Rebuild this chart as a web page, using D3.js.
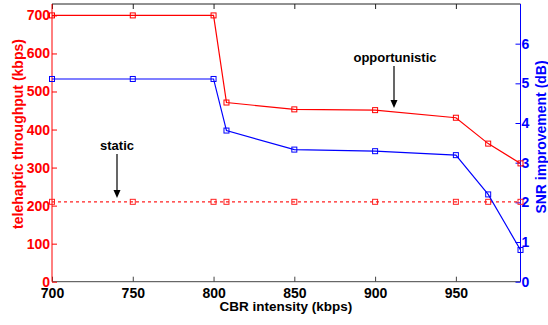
<!DOCTYPE html>
<html>
<head>
<script src="https://d3js.org/d3.v7.min.js"></script>
<style>
  body { margin: 0; background: #fff; }
  text { font-family: "Liberation Sans", Arial, sans-serif; font-weight: bold; }
</style>
</head>
<body>
<div id="chart"></div>
<script>
// data
var cbr = [700, 750, 800, 808, 850, 900, 950, 970, 990];
var opportunistic = [700, 700, 700, 471, 453, 451, 431, 363, 311];
var staticTput = [210, 210, 210, 210, 210, 210, 210, 210, 210];
var snrGain = [5.11, 5.11, 5.11, 3.81, 3.33, 3.29, 3.19, 2.2, 0.8];
var xTicks = [700, 750, 800, 850, 900, 950];
var leftTicks = [0, 100, 200, 300, 400, 500, 600, 700];
var rightTicks = [0, 1, 2, 3, 4, 5, 6];

var width = 548, height = 325;
var pLeft = 52, pRight = 520.5, pTop = 4, pBottom = 281.7;

var svg = d3.select("#chart").append("svg")
    .attr("width", width)
    .attr("height", height);

var x = d3.scaleLinear().domain([700, 990]).range([pLeft, pRight]);
var yL = d3.scaleLinear().domain([0, 730]).range([pBottom, pTop]);
var yR = d3.scaleLinear().domain([0, 7]).range([pBottom, pTop]);

// top border with ticks
svg.append("g")
    .attr("transform", "translate(0," + pTop + ")")
    .call(d3.axisTop(x).tickValues(xTicks).tickSize(-5).tickFormat(""))
    .call(g => g.select(".domain").attr("stroke", "#222").attr("d", "M" + pLeft + ",0H" + pRight))
    .call(g => g.selectAll(".tick line").attr("stroke", "#222"));

// bottom axis
svg.append("g")
    .attr("transform", "translate(0," + pBottom + ")")
    .call(d3.axisBottom(x).tickValues(xTicks).tickSize(-5).tickPadding(6))
    .call(g => g.select(".domain").attr("stroke", "#444").attr("d", "M" + pLeft + ",0H" + pRight))
    .call(g => g.selectAll(".tick line").attr("stroke", "#444"))
    .call(g => g.selectAll(".tick text").attr("fill", "#000").style("font-size", "14px"));

// left axis
svg.append("g")
    .attr("transform", "translate(" + pLeft + ",0)")
    .call(d3.axisLeft(yL).tickValues(leftTicks).tickSize(-5).tickPadding(2))
    .call(g => g.select(".domain").attr("stroke", "red").attr("d", "M0," + pTop + "V" + pBottom))
    .call(g => g.selectAll(".tick line").attr("stroke", "red"))
    .call(g => g.selectAll(".tick text").attr("fill", "red").style("font-size", "14px"));

// right axis
svg.append("g")
    .attr("transform", "translate(" + pRight + ",0)")
    .call(d3.axisRight(yR).tickValues(rightTicks).tickFormat(d3.format("d")).tickSize(-5).tickPadding(1))
    .call(g => g.select(".domain").attr("stroke", "blue").attr("d", "M0," + pTop + "V" + pBottom))
    .call(g => g.selectAll(".tick line").attr("stroke", "blue"))
    .call(g => g.selectAll(".tick text").attr("fill", "blue").style("font-size", "14px"));

function series(vals, yScale, color, dash) {
    var pts = cbr.map((c, i) => [c, vals[i]]);
    var line = d3.line().x(d => x(d[0])).y(d => yScale(d[1]));
    svg.append("path")
        .datum(pts)
        .attr("fill", "none")
        .attr("stroke", color)
        .attr("stroke-width", 1.2)
        .attr("stroke-dasharray", dash)
        .attr("d", line);
    svg.append("g").selectAll("rect")
        .data(pts)
        .join("rect")
        .attr("x", d => x(d[0]) - 2.5)
        .attr("y", d => yScale(d[1]) - 2.5)
        .attr("width", 5)
        .attr("height", 5)
        .attr("fill", "none")
        .attr("stroke", color)
        .attr("stroke-width", 1);
}

series(staticTput, yL, "#ff2020", "3,3");
series(snrGain, yR, "blue", null);
series(opportunistic, yL, "red", null);

// annotations
function arrow(label, lx, ly, x0, y0, y1) {
    svg.append("text")
        .attr("x", lx).attr("y", ly)
        .attr("text-anchor", "middle")
        .style("font-size", "13px")
        .text(label);
    svg.append("line")
        .attr("x1", x0).attr("x2", x0)
        .attr("y1", y0).attr("y2", y1 - 6)
        .attr("stroke", "#000").attr("stroke-width", 1.2);
    svg.append("path")
        .attr("d", "M" + (x0 - 3.5) + "," + (y1 - 8) + "L" + (x0 + 3.5) + "," + (y1 - 8) + "L" + x0 + "," + y1 + "Z")
        .attr("fill", "#000");
}
arrow("opportunistic", 395, 62, 394, 66, 108);
arrow("static", 117, 150, 117, 154, 198);

// axis titles
svg.append("text")
    .attr("transform", "translate(23,134) rotate(-90)")
    .attr("text-anchor", "middle")
    .attr("fill", "red")
    .style("font-size", "14px")
    .text("telehaptic throughput (kbps)");

svg.append("text")
    .attr("transform", "translate(546,137) rotate(-90)")
    .attr("text-anchor", "middle")
    .attr("fill", "blue")
    .style("font-size", "14px")
    .text("SNR improvement (dB)");

svg.append("text")
    .attr("x", 286).attr("y", 311)
    .attr("text-anchor", "middle")
    .attr("fill", "#000")
    .style("font-size", "13.5px")
    .text("CBR intensity (kbps)");
</script>
</body>
</html>
